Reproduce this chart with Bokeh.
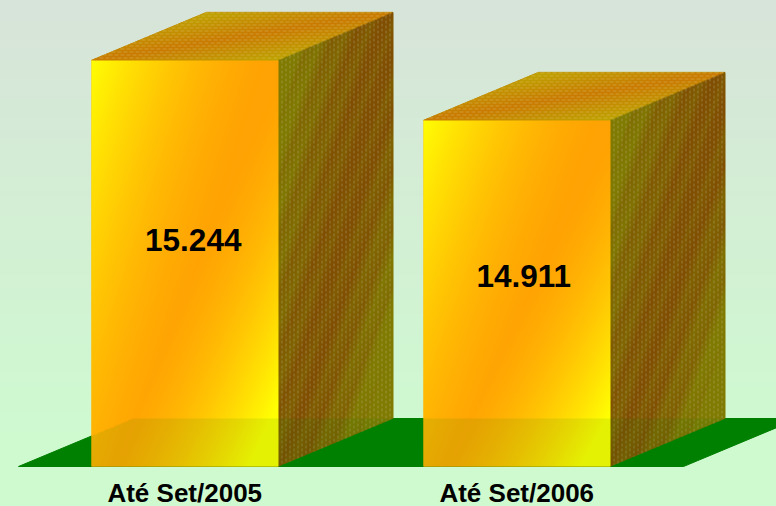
import numpy as np
from bokeh.plotting import figure
from bokeh.core.properties import value
from bokeh.embed import file_html
from bokeh.resources import INLINE

categories = ["Até Set/2005", "Até Set/2006"]
values = [15244, 14911]
value_labels = ["15.244", "14.911"]

BASE = 12990.0
PX_PER_UNIT = 0.1802
W, H = 776, 506
FLOOR_PX = 466
Y_BOTTOM = BASE - (H - FLOOR_PX) / PX_PER_UNIT
Y_TOP = BASE + FLOOR_PX / PX_PER_UNIT
BAR_LEFT = [91, 423]
BAR_W = 186.5
DX, DY = 115, 48


def to_y(px):
    return Y_TOP - px / PX_PER_UNIT


def to_px(v):
    return (Y_TOP - v) * PX_PER_UNIT


p = figure(width=W, height=H, x_range=(0, W), y_range=(Y_BOTTOM, Y_TOP),
           output_backend="svg", toolbar_location=None, min_border=0,
           outline_line_color=None, border_fill_color=None, background_fill_color=None)
p.axis.visible = False
p.grid.visible = False

xx, yy = np.meshgrid(np.arange(W) + 0.5, np.arange(H) + 0.5)
ix, iy = np.meshgrid(np.arange(W), np.arange(H))


def show(rgb, alpha):
    a = np.dstack([np.clip(rgb, 0, 255), alpha]).astype(np.uint8)
    packed = a[..., 0].astype(np.uint32) | (a[..., 1].astype(np.uint32) << 8) | \
        (a[..., 2].astype(np.uint32) << 16) | (a[..., 3].astype(np.uint32) << 24)
    p.image_rgba(image=[packed[::-1]], x=0, y=Y_BOTTOM, dw=W, dh=Y_TOP - Y_BOTTOM)


def lerp(c0, c1, f):
    c0 = np.array(c0, float)
    c1 = np.array(c1, float)
    return c0 + (c1 - c0) * f[..., None]


# background
g = yy / H
bg = lerp((216, 228, 218), (207, 250, 208), np.clip(g / 0.85, 0, 1))
show(bg, np.full((H, W), 255.0))

# floor
FLOOR_BACK = 418
k = DX / DY
fl = 18
fr = 683
p.patch([fl, fr, fr + (FLOOR_PX - FLOOR_BACK) * k, fl + (FLOOR_PX - FLOOR_BACK) * k],
        [to_y(FLOOR_PX), to_y(FLOOR_PX), to_y(FLOOR_BACK), to_y(FLOOR_BACK)],
        fill_color="#008000", line_color="#008000", line_width=1)


def yellow_frac(u, w):
    low = np.clip((0.5 - 0.5 * (u + 0.7 * w)) / 0.5, 0, 1)
    high = np.clip((0.5 * (u + w) - 0.5) / 0.42, 0, 1)
    return np.maximum(low, high) ** 1.6


for left, v in zip(BAR_LEFT, values):
    top = to_px(v)
    right = left + BAR_W
    hpx = FLOOR_PX - top
    y0, y1 = to_y(top), to_y(FLOOR_PX)
    yb = to_y(top - DY)
    yb2 = to_y(FLOOR_PX - DY)

    # solid faces through the scales
    p.patch([left + DX, right + DX, right, left], [yb, yb, y0, y0],
            fill_color="#c08c00", line_color="#c09010", line_width=1)
    p.patch([right, right + DX, right + DX, right], [y0, yb, yb2, y1],
            fill_color="#806400", line_color=None)
    p.quad(left=[left], right=[right], top=[v], bottom=[BASE],
           fill_color="#ffb000", line_color=None)

    rgb = np.zeros((H, W, 3))
    alpha = np.zeros((H, W))

    # side face
    d = (xx - right) / DX
    ys = yy + (xx - right) / k
    m = (d >= 0) & (d <= 1) & (ys >= top) & (ys <= FLOOR_PX)
    band = np.sin(2 * np.pi * (xx + 0.38 * yy) / 22.0)
    f = np.clip(yellow_frac(d, (ys - top) / hpx) * 1.25 + 0.2 * band ** 3 + 0.06, 0, 1)
    side = lerp((128, 78, 0), (128, 122, 0), f)
    dash = (ix % 4 == 1) & (((iy + 2 * ((ix // 4) % 2)) % 5) < 3)
    side = np.where(dash[..., None], side + (np.array([195, 195, 175]) - side) * 0.36, side)
    rgb[m] = side[m]
    alpha[m] = 255

    # top face
    b = (top - yy) / DY
    a = (xx - left - b * DX) / BAR_W
    m = (b >= 0) & (b <= 1) & (a >= 0) & (a <= 1)
    f = np.abs(a - b)
    topc = lerp((202, 122, 0), (190, 165, 0), np.clip(f, 0, 1))
    dash = (iy % 3 == 0) & (((ix + 3 * ((iy // 3) % 2)) % 6) < 4)
    topc = np.where(dash[..., None], topc + (np.array([225, 200, 120]) - topc) * 0.4, topc)
    rgb[m] = topc[m]
    alpha[m] = 255

    # front face
    u = (xx - left) / BAR_W
    w = (yy - top) / hpx
    m = (u >= 0) & (u <= 1) & (w >= 0) & (w <= 1)
    f = yellow_frac(u, w)
    front = lerp((255, 160, 0), (255, 255, 0), f)
    dot = ((ix + iy) % 2 == 0) & (iy % 2 == 0)
    front = np.where(dot[..., None], front + (np.array([255, 230, 120]) - front) * 0.12, front)
    rgb[m] = front[m]
    alpha[m] = 255
    show(rgb, alpha)

# floor seen through the bars
left_edge = fl + (FLOOR_PX - yy) * k
right_edge = fr + (FLOOR_PX - yy) * k
m = (yy >= FLOOR_BACK) & (yy <= FLOOR_PX) & (xx >= left_edge) & (xx <= right_edge)
checker = (ix + iy) % 2 == 0
alpha = np.where(m, np.where(checker, 44.0, 8.0), 0.0)
show(np.dstack([np.zeros((H, W)), np.full((H, W), 128.0), np.zeros((H, W))]), alpha)

# labels
for left, v, lab, off, frac, cat in zip(BAR_LEFT, values, value_labels, [8.5, 7], [0.558, 0.551], categories):
    cx = left + BAR_W / 2
    p.text([cx + off], [BASE + (v - BASE) * frac], text=[lab], text_align="center",
           text_baseline="middle", text_color="#000000",
           text_font=value("Liberation Sans"), text_font_style="bold", text_font_size="31.5px")
    p.text([cx], [to_y(492)], text=[cat], text_align="center", text_baseline="middle",
           text_color="#000000", text_font=value("Liberation Sans"),
           text_font_style="bold", text_font_size="26px")

html = file_html(p, INLINE)
html = html.replace("<head>", "<head><style>html,body{margin:0;padding:0;overflow:hidden;"
                    "background:linear-gradient(#d8e4da,#cffad0 85%)}</style>", 1)
open("out.html", "w").write(html)
